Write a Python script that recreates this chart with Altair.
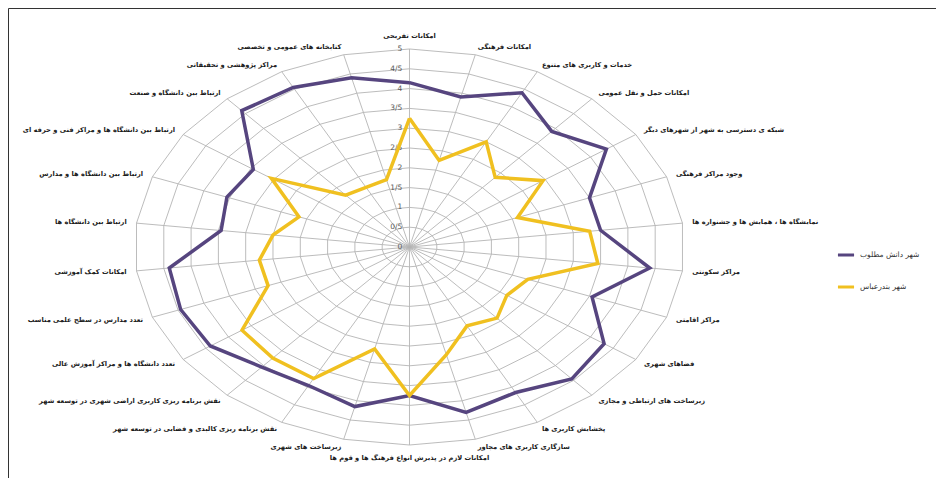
import altair as alt
import pandas as pd

categories = [
    "امکانات تفریحی",
    "امکانات فرهنگی",
    "خدمات و کاربری های متنوع",
    "امکانات حمل و نقل عمومی",
    "شبکه ی دسترسی به شهر از شهرهای دیگر",
    "وجود مراکز فرهنگی",
    "نمایشگاه ها ، همایش ها و جشنواره ها",
    "مراکز سکونتی",
    "مراکز اقامتی",
    "فضاهای شهری",
    "زیرساخت های ارتباطی و مجازی",
    "پخشایش کاربری ها",
    "سازگاری کاربری های مجاور",
    "امکانات لازم در پذیرش انواع فرهنگ ها و قوم ها",
    "زیرساخت های شهری",
    "نقش برنامه ریزی کالبدی و فضایی در توسعه شهر",
    "نقش برنامه ریزی کاربری اراضی شهری در توسعه شهر",
    "تعدد دانشگاه ها و مراکز آموزش عالی",
    "تعدد مدارس در سطح علمی مناسب",
    "امکانات کمک آموزشی",
    "ارتباط بین دانشگاه ها",
    "ارتباط بین دانشگاه ها و مدارس",
    "ارتباط بین دانشگاه ها و مراکز فنی و حرفه ای",
    "ارتباط بین دانشگاه و صنعت",
    "مراکز پژوهشی و تحقیقاتی",
    "کتابخانه های عمومی و تخصصی",
]

ideal = [4.15, 3.9, 4.4, 3.9, 4.35, 3.5, 3.5, 4.4, 3.55, 4.3, 4.45, 4.15, 4.3,
         3.75, 4.15, 3.95, 4.05, 4.4, 4.45, 4.4, 3.45, 3.55, 3.45, 4.6, 4.55, 4.4]
bandar = [3.25, 2.25, 3.0, 2.35, 2.95, 2.1, 3.3, 3.45, 2.3, 2.15, 2.4, 2.25, 2.8,
          3.75, 2.65, 3.75, 3.75, 3.7, 2.75, 2.75, 2.5, 2.15, 3.05, 1.75, 1.7, 1.75]

series_names = ["شهر دانش مطلوب", "شهر بندرعباس"]
series_colors = ["#56457f", "#f0c020"]

tick_values = [0, 0.5, 1, 1.5, 2, 2.5, 3, 3.5, 4, 4.5, 5]
tick_labels = ["0", "0/5", "1", "1/5", "2", "2/5", "3", "3/5", "4", "4/5", "5"]

N = len(categories)
W, H = 928, 470
XDOM = [-7.30, 9.573]
YDOM = [-5.833, 6.035]

xs = alt.Scale(domain=XDOM, nice=False, zero=False)
ys = alt.Scale(domain=YDOM, nice=False, zero=False)

ANG = f"datum.idx * 2 * PI / {N}"

rows = []
for name, vals in zip(series_names, [ideal, bandar]):
    for i in range(N + 1):
        rows.append({"series": name, "idx": i, "value": vals[i % N]})
series_df = pd.DataFrame(rows)

ring_rows = []
for r in tick_values[1:]:
    for i in range(N + 1):
        ring_rows.append({"ring": r, "idx": i})
ring_df = pd.DataFrame(ring_rows)

cat_df = pd.DataFrame({"idx": list(range(N)), "cat": categories})
tick_df = pd.DataFrame({"v": tick_values, "lab": tick_labels})

grid_color = "#b4b4b4"

rings = alt.Chart(ring_df).transform_calculate(
    x=f"datum.ring * sin({ANG})", y=f"datum.ring * cos({ANG})"
).mark_line(color=grid_color, strokeWidth=0.9).encode(
    x=alt.X("x:Q", scale=xs, axis=None),
    y=alt.Y("y:Q", scale=ys, axis=None),
    detail="ring:N",
    order="idx:Q",
)

spokes = alt.Chart(cat_df).transform_calculate(
    x0="0", y0="0",
    x=f"5 * sin({ANG})", y=f"5 * cos({ANG})"
).mark_rule(color=grid_color, strokeWidth=0.9).encode(
    x=alt.X("x0:Q", scale=xs, axis=None),
    y=alt.Y("y0:Q", scale=ys, axis=None),
    x2="x:Q",
    y2="y:Q",
)

ticks = alt.Chart(tick_df).transform_calculate(
    x="-0.13"
).mark_text(align="right", baseline="middle", fontSize=7.5, font="DejaVu Sans",
            color="#595959").encode(
    x=alt.X("x:Q", scale=xs, axis=None),
    y=alt.Y("v:Q", scale=ys, axis=None),
    text="lab:N",
)

color = alt.Color(
    "series:N",
    scale=alt.Scale(domain=series_names, range=series_colors),
    legend=alt.Legend(
        title=None, orient="none", legendX=828, legendY=237,
        symbolType="stroke", symbolStrokeWidth=3, symbolSize=260,
        labelFont="DejaVu Sans", labelFontSize=7.5, labelColor="#333333",
        rowPadding=16,
    ),
)

lines = alt.Chart(series_df).transform_calculate(
    x=f"datum.value * sin({ANG})", y=f"datum.value * cos({ANG})"
).mark_line(strokeWidth=3.5, strokeJoin="miter").encode(
    x=alt.X("x:Q", scale=xs, axis=None),
    y=alt.Y("y:Q", scale=ys, axis=None),
    color=color,
    detail="series:N",
    order="idx:Q",
)

def label_layer(cond, align, rx, ry):
    return alt.Chart(cat_df).transform_filter(cond).transform_calculate(
        x=f"{rx} * sin({ANG})", y=f"{ry} * cos({ANG})"
    ).mark_text(align=align, baseline="middle", fontSize=6.7, fontWeight="bold",
                font="DejaVu Sans", color="#1a1a1a").encode(
        x=alt.X("x:Q", scale=xs, axis=None),
        y=alt.Y("y:Q", scale=ys, axis=None),
        text="cat:N",
    )

half = N // 2
lab_c = label_layer(f"datum.idx == 0 || datum.idx == {half}", "center", 5.0, 5.33)
lab_r = label_layer(f"datum.idx > 0 && datum.idx < {half}", "left", 5.18, 5.2)
lab_l = label_layer(f"datum.idx > {half}", "right", 5.18, 5.2)

chart = alt.layer(rings, spokes, ticks, lines, lab_c, lab_r, lab_l).properties(
    width=W, height=H, padding=0, autosize="none",
    background="white",
).configure_view(stroke="#333333", strokeWidth=1)

chart.save("out.html", embed_options={"renderer": "svg", "actions": False})
